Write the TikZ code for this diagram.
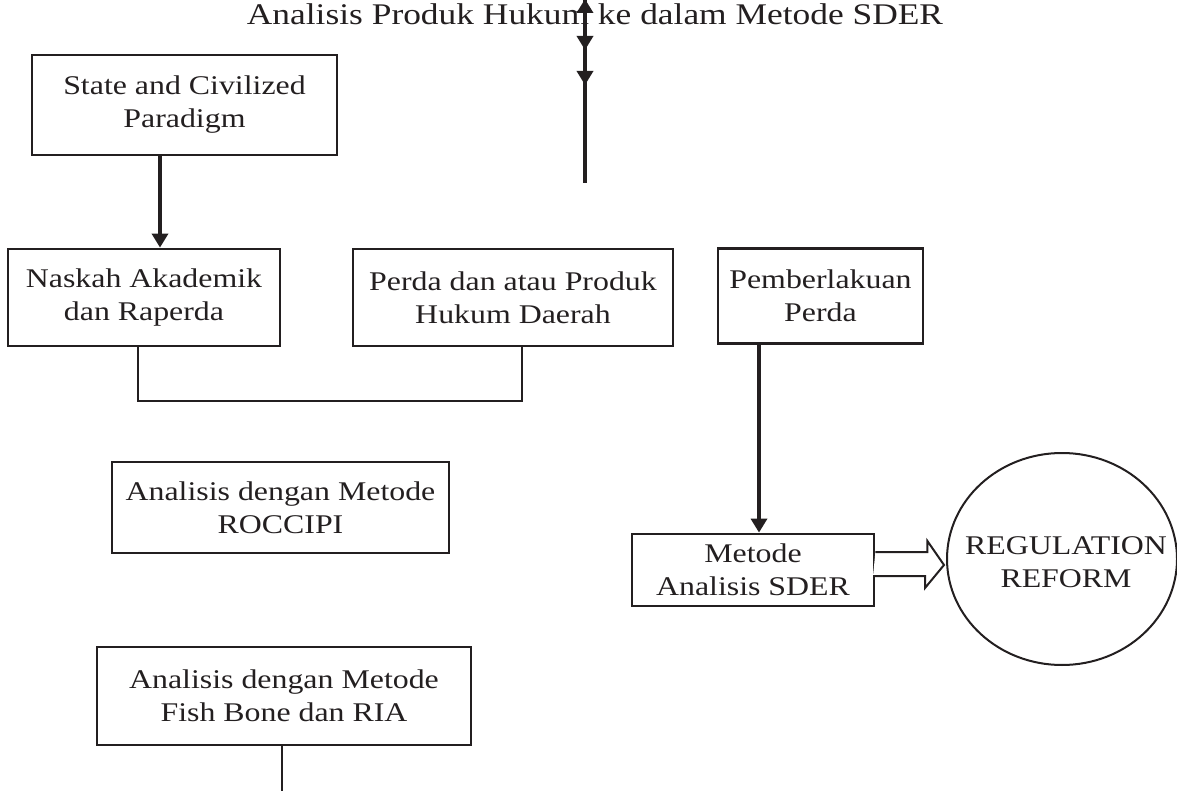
\documentclass[tikz,border=0pt]{standalone}
\usepackage{fontspec}
\setmainfont{Liberation Serif}[FakeStretch=1.18]
\usetikzlibrary{arrows.meta,calc,shapes.geometric}
\definecolor{ink}{HTML}{231F20}
\tikzset{
  boxnode/.style={draw=ink, line width=2.8pt, rectangle, inner sep=0pt, align=center, text=ink},
  arr/.style={draw=ink, line width=3.4pt, -{Triangle[length=14pt,width=16pt]}},
  plainline/.style={draw=ink, line width=2.2pt},
  hollow/.style={draw=ink, line width=2pt, fill=white, line join=miter},
  txt/.style={font=\fontsize{27}{33}\selectfont}
}
\begin{document}
\begin{tikzpicture}[x=1pt,y=-1pt,txt]
\useasboundingbox (0,0) rectangle (1177,791);
% title
\node[anchor=base, text=ink, inner sep=0pt, font=\fontsize{30}{33}\selectfont] (title) at (595,25) {Analisis Produk Hukum ke dalam Metode SDER};
% boxes
\node[boxnode, minimum width=305pt, minimum height=100pt] (state) at (184.5,105) {State and Civilized\\Paradigm};
\node[boxnode, minimum width=272pt, minimum height=97pt] (naskah) at (144,297.5) {Naskah Akademik\\dan Raperda};
\node[boxnode, minimum width=320pt, minimum height=97pt] (perda) at (513,297.5) {Perda dan atau Produk\\Hukum Daerah};
\node[boxnode, minimum width=205pt, minimum height=95pt] (pember) at (820.5,296) {Pemberlakuan\\Perda};
\node[boxnode, minimum width=337pt, minimum height=91pt] (roccipi) at (280.5,507.5) {Analisis dengan Metode\\ROCCIPI};
\node[boxnode, minimum width=374pt, minimum height=98pt] (fish) at (284,696) {Analisis dengan Metode\\Fish Bone dan RIA};
\node[boxnode, minimum width=242pt, minimum height=72pt] (sder) at (753,570) {Metode\\Analisis SDER};
\node[draw=ink, line width=2pt, ellipse, minimum width=230pt, minimum height=212pt, inner sep=0pt, align=center, text=ink] (circ) at (1062,559) {};
\node[align=center, text=ink, inner sep=0pt] (circtext) at (1066,562) {REGULATION\\REFORM};
% top line with arrows
\coordinate (t0) at (585,-1);
\coordinate (t1) at (585,50);
\coordinate (t2) at (585,85);
\coordinate (t3) at (585,183);
\draw[arr] (t2) -- (t0);
\draw[arr] (t0) -- (t1);
\draw[arr] (t1) -- (t2);
\draw[draw=ink, line width=3.4pt] (t2) -- (t3);
% state -> naskah
\draw[arr] ([xshift=-24.5pt]state.south) -- ([xshift=-24.5pt]state.south |- naskah.north);
% bracket naskah - perda
\coordinate (j) at (522,401);
\draw[plainline] ([xshift=-6pt]naskah.south) |- (j) -- (j |- perda.south);
% pemberlakuan -> sder
\draw[arr] ([xshift=-61.5pt]pember.south) -- ([xshift=-61.5pt]pember.south |- sder.north);
% hollow arrow sder -> circle
\coordinate (tip) at ([xshift=-2pt,yshift=-6pt]circ.west);
\draw[hollow] (sder.east) ++(0,-18) -- ++(52,0) -- ++(0,-11) -- (tip) -- ++(-19,23) -- ++(0,-12) -- ++(-52,0);
% fish bone line down
\coordinate (fb) at (282,795);
\draw[plainline] (fish.south -| fb) -- (fb);
\end{tikzpicture}
\end{document}
